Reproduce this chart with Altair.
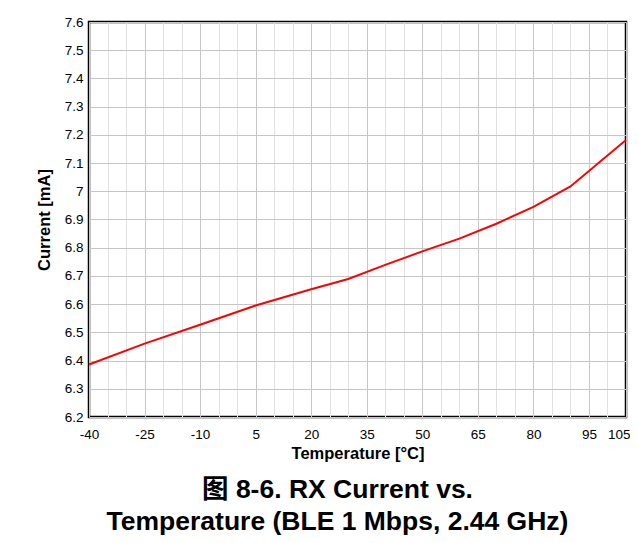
import altair as alt
import pandas as pd

temps = [-40, -25, -10, 5, 20, 30, 40, 50, 60, 70, 80, 90, 105]
current = [6.386, 6.46, 6.527, 6.595, 6.653, 6.689, 6.739, 6.787, 6.832, 6.885, 6.945, 7.017, 7.182]

x_grid_values = [-40, -35, -30, -25, -20, -15, -10, -5, 0, 5, 10, 15, 20, 25, 30, 35,
                 40, 45, 50, 55, 60, 65, 70, 75, 80, 85, 90, 95, 100, 105]
x_label_values = [-40, -25, -10, 5, 20, 35, 50, 65, 80, 95, 105]
y_values = [6.2, 6.3, 6.4, 6.5, 6.6, 6.7, 6.8, 6.9, 7.0, 7.1, 7.2, 7.3, 7.4, 7.5, 7.6]

df = pd.DataFrame({"t": temps, "c": current})

FONT = "Liberation Sans, Arial, Noto Sans CJK SC"
label_test = "indexof([" + ",".join(str(v) for v in x_label_values) + "], datum.value) >= 0"
last_test = "datum.value === 105"

chart = alt.Chart(df).mark_line(color="#ff0000", strokeWidth=2).encode(
    x=alt.X("t:Q",
            scale=alt.Scale(domain=[-40, 105], nice=False, zero=False),
            axis=alt.Axis(values=x_grid_values,
                          title="Temperature [°C]",
                          labelExpr="(" + label_test + ") ? toString(datum.value) : ''",
                          labelFlush=False,
                          labelAlign={"condition": {"test": last_test, "value": "right"},
                                      "value": "center"},
                          labelOffset={"condition": {"test": last_test, "value": 4},
                                       "value": 0},
                          gridColor={"condition": {"test": label_test, "value": "#c6c6c6"},
                                     "value": "#e2e2e2"},
                          ticks=False, domain=False,
                          labelPadding=10, titlePadding=5)),
    y=alt.Y("c:Q",
            scale=alt.Scale(domain=[6.2, 7.6], nice=False, zero=False),
            axis=alt.Axis(values=y_values,
                          labelExpr="toString(datum.value)",
                          title="Current [mA]",
                          ticks=False, domain=False,
                          labelPadding=6, titlePadding=12,
                          gridColor="#c6c6c6")),
).properties(
    width=537,
    height=395,
    autosize=alt.AutoSizeParams(type="none"),
    padding={"left": 81, "top": 14, "right": 4, "bottom": 118},
    title=alt.TitleParams(
        text=["图 8-6. RX Current vs.", "Temperature (BLE 1 Mbps, 2.44 GHz)"],
        orient="bottom", anchor="middle", fontSize=26.5, fontWeight="bold",
        font=FONT, lineHeight=32, offset=15, dx=-20, color="#000000"),
).configure_view(
    stroke="#000000", strokeWidth=2.5
).configure_axis(
    labelFont=FONT, labelFontSize=13.5, labelColor="#000000",
    titleFont=FONT, titleFontSize=16.5, titleFontWeight="bold", titleColor="#000000",
    gridWidth=1, gridOpacity=1, labelFontWeight="normal"
)

chart.save("out.html", embed_options={"renderer": "svg", "actions": False})
